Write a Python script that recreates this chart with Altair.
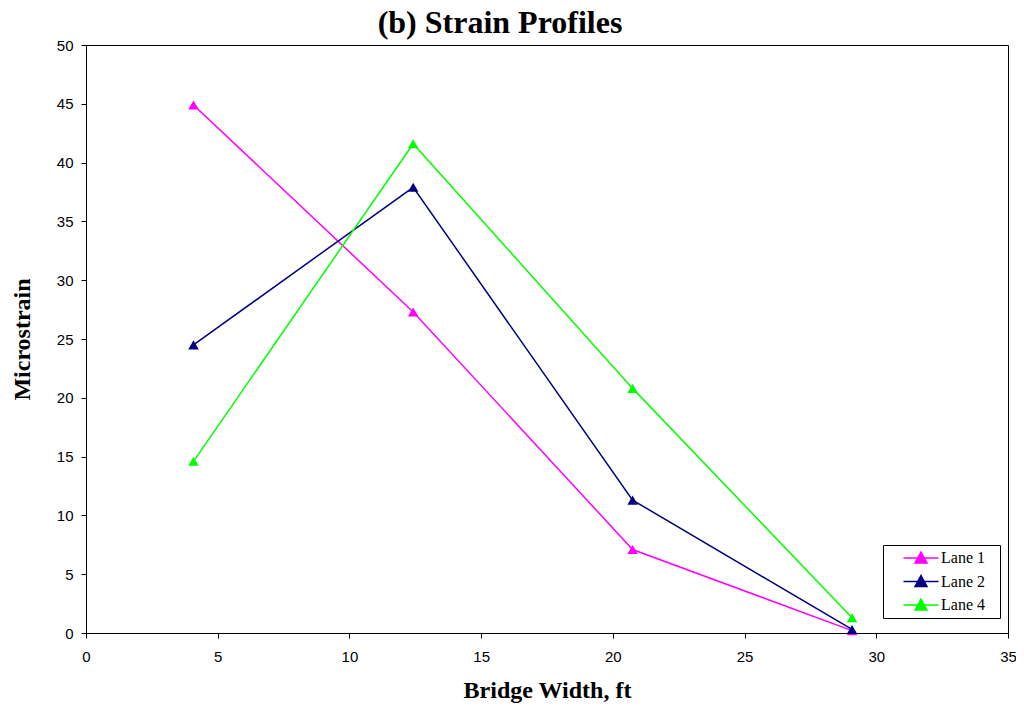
import altair as alt
import pandas as pd

width_ft = [4.08, 12.42, 20.75, 29.08]
lane1 = [44.9, 27.3, 7.1, 0.2]
lane2 = [24.5, 37.9, 11.3, 0.3]
lane4 = [14.6, 41.6, 20.8, 1.3]
lanes = ["Lane 1", "Lane 2", "Lane 4"]
colors = ["#FF00FF", "#000080", "#00FF00"]

rows = []
for name, vals in zip(lanes, [lane1, lane2, lane4]):
    for x, y in zip(width_ft, vals):
        rows.append({"Lane": name, "x": x, "y": y})
df = pd.DataFrame(rows)

serif = "Liberation Serif"
sans = "Liberation Sans"

color = alt.Color(
    "Lane:N",
    scale=alt.Scale(domain=lanes, range=colors),
    legend=alt.Legend(
        title="\u00a0",
        titleOrient="right",
        titlePadding=10,
        titleFontSize=8,
        orient="none",
        legendX=797,
        legendY=500,
        strokeColor="black",
        fillColor="white",
        padding=5,
        labelFont=serif,
        labelFontSize=16,
        labelColor="black",
        symbolType="M-3.5,0H3.5M-1.2,1L0,-1.2L1.2,1Z",
        symbolSize=100,
        symbolStrokeWidth=1.5,
        symbolOffset=25,
        labelOffset=12,
        rowPadding=6.5,
    ),
)

xenc = alt.X(
    "x:Q",
    scale=alt.Scale(domain=[0, 35], nice=False),
    axis=alt.Axis(
        values=list(range(0, 36, 5)),
        title="Bridge Width, ft",
        titleFont=serif,
        titleFontSize=24,
        titleFontWeight="bold",
        titleColor="black",
        titleBaseline="alphabetic",
        titleY=64,
        labelFont=sans,
        labelFontSize=15,
        labelColor="black",
        labelPadding=11,
        labelFlush=False,
        tickSize=5,
        tickColor="black",
        domainColor="black",
        grid=False,
    ),
)
yenc = alt.Y(
    "y:Q",
    scale=alt.Scale(domain=[0, 50], nice=False),
    axis=alt.Axis(
        values=list(range(0, 51, 5)),
        title="Microstrain",
        titleFont=serif,
        titleFontSize=24,
        titleFontWeight="bold",
        titleColor="black",
        titleBaseline="alphabetic",
        titleX=-57,
        labelFont=sans,
        labelFontSize=15,
        labelColor="black",
        labelPadding=8,
        labelFlush=False,
        tickSize=5,
        tickColor="black",
        domainColor="black",
        grid=False,
    ),
)

lines = alt.Chart(df).mark_line(strokeWidth=1.5).encode(
    x=xenc, y=yenc, color=color, detail="Lane:N"
)
points = alt.Chart(df).mark_point(
    shape="triangle-up", filled=True, size=110, opacity=1
).encode(x=xenc, y=yenc, color=color)

chart = (
    alt.layer(lines, points)
    .properties(
        width=922,
        height=588,
        title=alt.TitleParams(
            "(b) Strain Profiles",
            font=serif,
            fontSize=32,
            fontWeight="bold",
            color="black",
            dx=-47,
            offset=-2,
        ),
        autosize=alt.AutoSizeParams(type="none"),
        padding={"left": 78, "top": 37, "right": 8, "bottom": 70},
        background="white",
    )
    .configure_view(stroke="black", strokeWidth=1)
)

chart.save("out.html", embed_options={"renderer": "svg", "actions": False})
